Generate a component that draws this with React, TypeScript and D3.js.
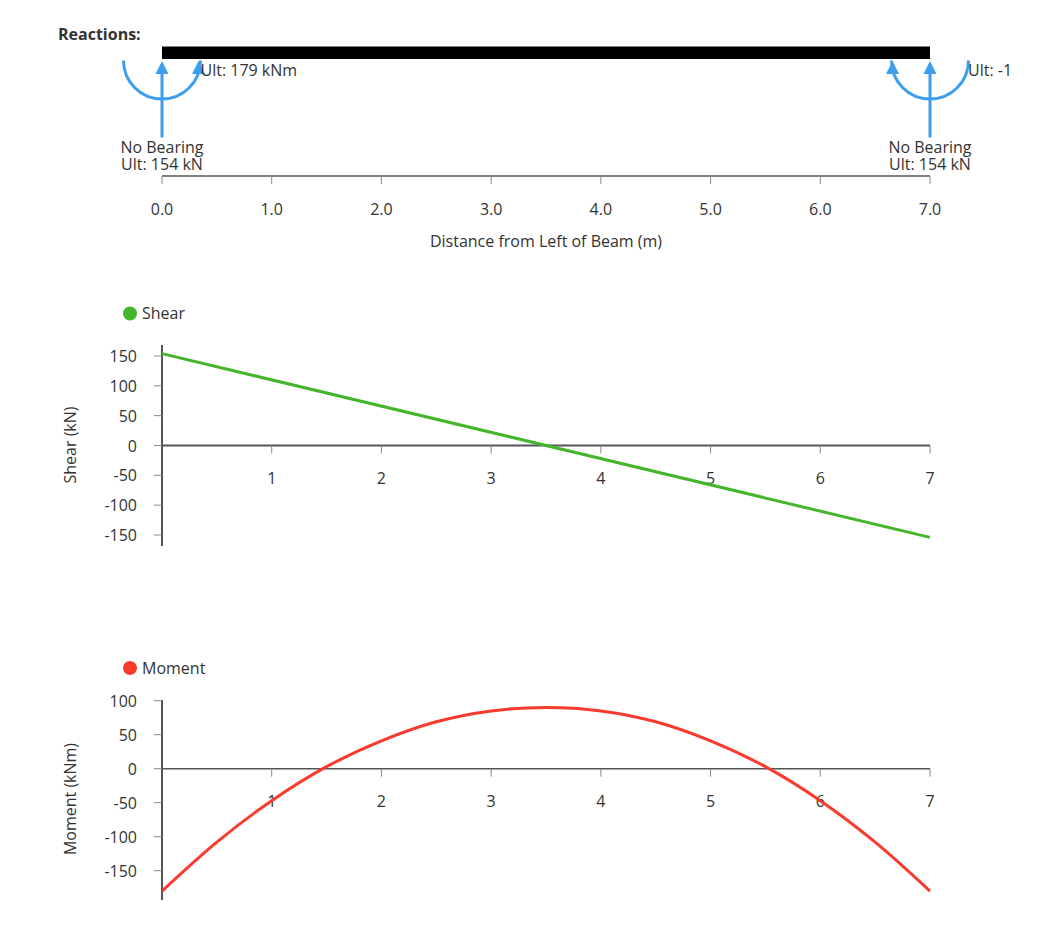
import React from "react";
import * as d3 from "d3";

const beamTicks = [0, 1, 2, 3, 4, 5, 6, 7];
const plotTicks = [1, 2, 3, 4, 5, 6, 7];
const shearTicks = [150, 100, 50, 0, -50, -100, -150];
const momentTicks = [100, 50, 0, -50, -100, -150];
const shearX = [0, 7];
const shearY = [154, -154];
const momentX = [0, 0.5, 1, 1.5, 2, 2.5, 3, 3.5, 4, 4.5, 5, 5.5, 6, 6.5, 7];
const momentY = [-180, -108, -47, 3, 41, 69, 85, 90, 85, 69, 41, 3, -47, -108, -180];
const supports = [0, 7];
const supportLabel = "No Bearing";
const ultLabel = "Ult: 154 kN";
const momentLabels = ["Ult: 179 kNm", "Ult: -1"];

const FONT = "'Open Sans', sans-serif";
const TEXT = "#333";
const AXIS = "#555";
const TICK = "#888";
const BLUE = "#3b9eef";
const GREEN = "#45b52c";
const RED = "#fb3a2e";

const x = d3.scaleLinear().domain([0, 7]).range([162, 930]);
const yS = d3.scaleLinear().domain([0, 150]).range([445.5, 356]);
const yM = d3.scaleLinear().domain([0, 100]).range([768.7, 700.7]);

const lineS = d3.line<number>().x((d) => x(shearX[d])).y((d) => yS(shearY[d]));
const lineM = d3.line<number>().x((d) => x(momentX[d])).y((d) => yM(momentY[d])).curve(d3.curveCatmullRom);

function T({ x, y, children, anchor = "middle", size = 16, weight, transform }: any) {
  return (
    <text x={x} y={y} textAnchor={anchor} fontSize={size} fontWeight={weight} fill={TEXT} fontFamily={FONT} transform={transform}>
      {children}
    </text>
  );
}

function Plot({ y, ticks, top, bottom, zero, path, color, name, legendY, axisLabel, labelY, xLabelDy, zeroWidth }: any) {
  return (
    <g>
      <circle cx={130} cy={legendY} r={7} fill={color} />
      <T x={142} y={legendY + 5.5} anchor="start">{name}</T>
      <line x1={162} x2={162} y1={top} y2={bottom} stroke={AXIS} strokeWidth={2} />
      {ticks.map((t: number) => (
        <g key={t}>
          <line x1={154} x2={162} y1={y(t)} y2={y(t)} stroke={TICK} strokeWidth={1} />
          <T x={137} y={y(t) + 6} anchor="end">{t}</T>
        </g>
      ))}
      <line x1={162} x2={930} y1={zero} y2={zero} stroke={AXIS} strokeWidth={zeroWidth} />
      {plotTicks.map((t) => (
        <g key={t}>
          <line x1={x(t)} x2={x(t)} y1={zero} y2={zero + 8} stroke={TICK} strokeWidth={1} />
          <T x={x(t)} y={zero + xLabelDy}>{t}</T>
        </g>
      ))}
      <T x={0} y={0} transform={`translate(76,${labelY}) rotate(-90)`}>{axisLabel}</T>
      <path d={path} fill="none" stroke={color} strokeWidth={3} />
    </g>
  );
}

export default function App() {
  return (
    <svg width={1042} height={940} style={{ position: "absolute", left: 0, top: 0 }}>
      <T x={58} y={40} anchor="start" weight={700}>Reactions:</T>
      <rect x={x(0)} y={46.5} width={x(7) - x(0)} height={12.5} fill="#000" />

      {supports.map((s, i) => {
        const cx = x(s);
        const r = 38.5;
        const cy = 60.5;
        const leftX = cx - r;
        const rightX = cx + r;
        const headX = i === 0 ? rightX - 2 : leftX + 1;
        return (
          <g key={s}>
            <path d={`M${leftX},${cy} A${r},${r} 0 0 0 ${rightX},${cy}`} fill="none" stroke={BLUE} strokeWidth={3} />
            <line x1={cx} x2={cx} y1={137.5} y2={70} stroke={BLUE} strokeWidth={3} />
            <path d={`M${cx},61 L${cx + 6.5},74 L${cx - 6.5},74 Z`} fill={BLUE} />
            <path d={`M${headX},61 L${headX + 6.5},74 L${headX - 6.5},74 Z`} fill={BLUE} />
            <T x={cx} y={152.5}>{supportLabel}</T>
            <T x={cx} y={169.5}>{ultLabel}</T>
            <T x={rightX + (i === 0 ? 0 : -0.5)} y={75.5} anchor="start">{momentLabels[i]}</T>
          </g>
        );
      })}

      <line x1={162} x2={930} y1={176} y2={176} stroke={AXIS} strokeWidth={1.5} />
      {beamTicks.map((t) => (
        <g key={t}>
          <line x1={x(t)} x2={x(t)} y1={176} y2={184} stroke={TICK} strokeWidth={1} />
          <T x={x(t)} y={215}>{t.toFixed(1)}</T>
        </g>
      ))}
      <T x={546} y={246.5}>Distance from Left of Beam (m)</T>

      <Plot y={yS} ticks={shearTicks} top={345} bottom={546} zero={yS(0)} path={lineS(shearX.map((_, i) => i))} color={GREEN} name="Shear" legendY={313.5} axisLabel="Shear (kN)" labelY={445} xLabelDy={38.5} zeroWidth={2} />
      <Plot y={yM} ticks={momentTicks} top={700} bottom={900} zero={yM(0)} path={lineM(momentX.map((_, i) => i))} color={RED} name="Moment" legendY={668} axisLabel="Moment (kNm)" labelY={799} xLabelDy={38.5} zeroWidth={1.5} />
    </svg>
  );
}
